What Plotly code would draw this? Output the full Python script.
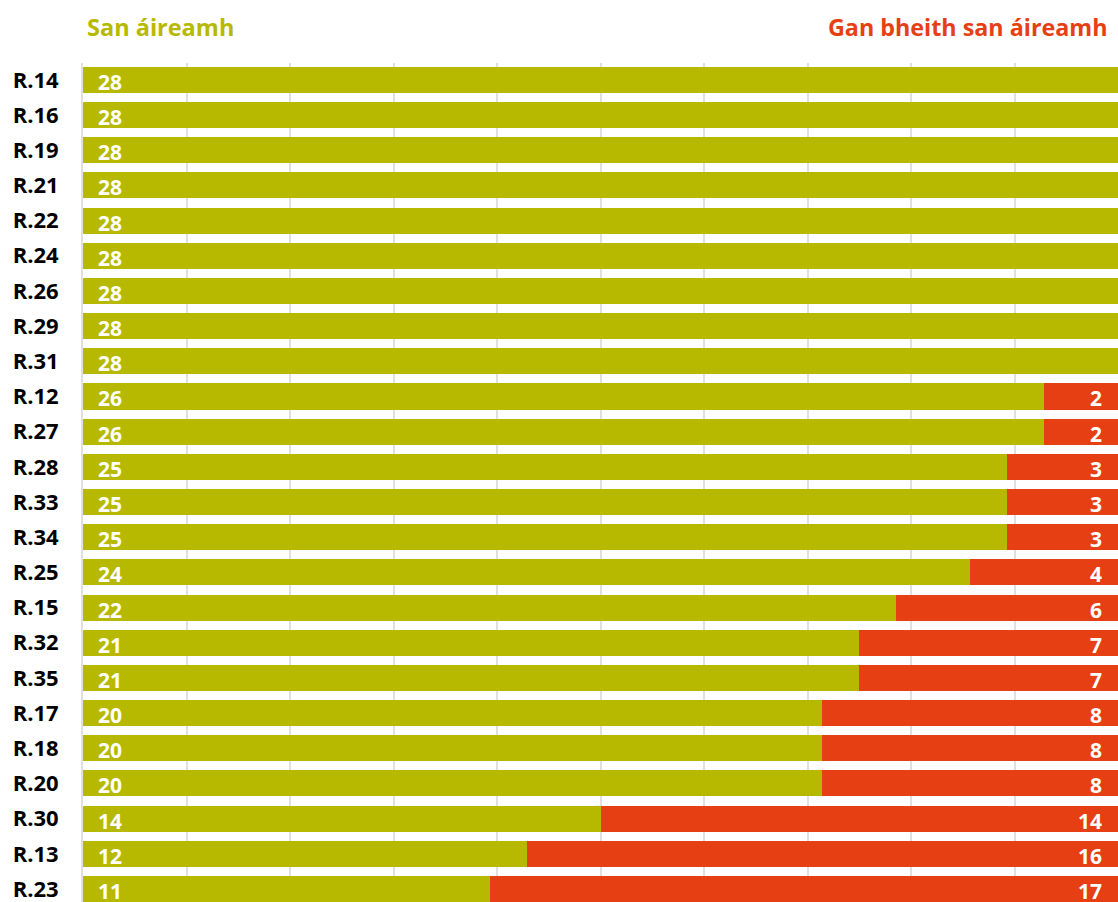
import plotly.graph_objects as go

categories = ["R.14", "R.16", "R.19", "R.21", "R.22", "R.24", "R.26", "R.29", "R.31",
              "R.12", "R.27", "R.28", "R.33", "R.34", "R.25", "R.15", "R.32", "R.35",
              "R.17", "R.18", "R.20", "R.30", "R.13", "R.23"]
san_aireamh = [28, 28, 28, 28, 28, 28, 28, 28, 28,
               26, 26, 25, 25, 25, 24, 22, 21, 21,
               20, 20, 20, 14, 12, 11]
gan_bheith = [0, 0, 0, 0, 0, 0, 0, 0, 0,
              2, 2, 3, 3, 3, 4, 6, 7, 7,
              8, 8, 8, 14, 16, 17]
total = 28

GREEN = "#b7b900"
RED = "#e63f13"
FONT = "Open Sans"

fig = go.Figure()
fig.add_trace(go.Bar(y=categories, x=san_aireamh, orientation="h",
                     marker=dict(color=GREEN, line=dict(width=0)),
                     name="San áireamh", hoverinfo="skip"))
fig.add_trace(go.Bar(y=categories, x=gan_bheith, orientation="h",
                     marker=dict(color=RED, line=dict(width=0)),
                     name="Gan bheith san áireamh", hoverinfo="skip"))

annotations = []
for cat, g, r in zip(categories, san_aireamh, gan_bheith):
    annotations.append(dict(x=0, y=cat, xref="x", yref="y", text=str(g),
                            showarrow=False, xanchor="left", yanchor="middle",
                            xshift=13, yshift=-2,
                            font=dict(family=FONT, size=21, color="white", weight="bold")))
    if r > 0:
        annotations.append(dict(x=total, y=cat, xref="x", yref="y", text=str(r),
                                showarrow=False, xanchor="right", yanchor="middle",
                                xshift=-14, yshift=-2,
                                font=dict(family=FONT, size=21, color="white", weight="bold")))

annotations.append(dict(x=0, y=1, xref="paper", yref="paper", text="San áireamh",
                        showarrow=False, xanchor="left", yanchor="middle",
                        xshift=2, yshift=36,
                        font=dict(family=FONT, size=23.5, color=GREEN, weight="bold")))
annotations.append(dict(x=1, y=1, xref="paper", yref="paper", text="Gan bheith san áireamh",
                        showarrow=False, xanchor="right", yanchor="middle",
                        xshift=-8, yshift=36,
                        font=dict(family=FONT, size=23.3, color=RED, weight="bold")))

fig.update_layout(
    width=1118, height=902,
    margin=dict(l=83, r=0, t=63, b=0),
    barmode="stack", bargap=0.26,
    showlegend=False,
    plot_bgcolor="white", paper_bgcolor="white",
    annotations=annotations,
    xaxis=dict(range=[0, total], tick0=0, dtick=total / 10, showticklabels=False,
               showgrid=True, gridcolor="#e0e0e0", gridwidth=2, zeroline=False,
               fixedrange=True),
    yaxis=dict(range=[23.37, -0.48], showgrid=False, showline=True,
               linecolor="#e0e0e0", linewidth=2, ticks="", ticklabelstandoff=18,
               tickfont=dict(family=FONT, size=22, color="black", weight="bold"),
               fixedrange=True),
)

fig.write_html("out.html", config={"displayModeBar": False},
               post_script="document.body.style.margin='0px';document.body.style.overflow='hidden';")
